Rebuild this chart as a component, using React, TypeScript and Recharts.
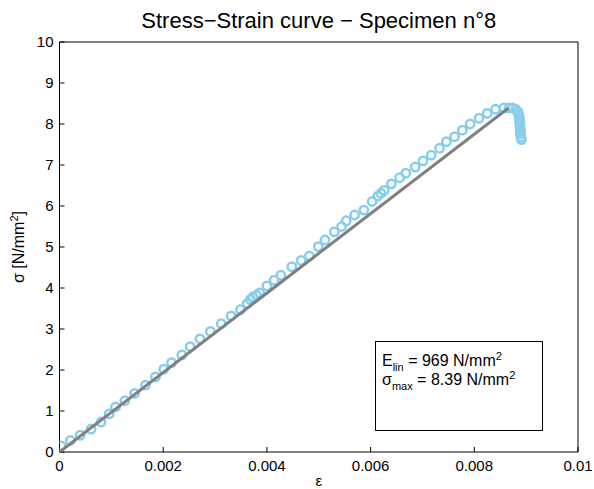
import { ScatterChart, Scatter, XAxis, YAxis } from 'recharts';

// measured strain / stress points (specimen 8)
const strain = [
  0.00003, 0.00021, 0.0004, 0.00061, 0.0008, 0.00096, 0.00108, 0.00126, 0.00145, 0.00166,
  0.00185, 0.00201, 0.00216, 0.00236, 0.00252, 0.00271, 0.00291, 0.00312, 0.00331, 0.00349,
  0.00362, 0.00368, 0.00373, 0.0038, 0.00386, 0.004, 0.00414, 0.00427, 0.00448, 0.00466,
  0.00482, 0.00499, 0.00512, 0.0053, 0.00544, 0.00553, 0.00569, 0.00587, 0.00603, 0.00614,
  0.0062, 0.00626, 0.0064, 0.00656, 0.00668, 0.00686, 0.00701, 0.00717, 0.00733, 0.00746,
  0.00762, 0.00777, 0.00792, 0.00809, 0.00825, 0.00841, 0.00857, 0.00867, 0.00874, 0.0088,
  0.00884, 0.00886, 0.00887, 0.00887, 0.00888, 0.00888, 0.00889, 0.00889, 0.0089, 0.00891,
];
const stress = [
  0.15, 0.28, 0.41, 0.56, 0.73, 0.93, 1.1, 1.25, 1.43, 1.63,
  1.83, 2.02, 2.18, 2.37, 2.57, 2.76, 2.94, 3.13, 3.32, 3.47,
  3.62, 3.72, 3.78, 3.82, 3.88, 4.05, 4.19, 4.31, 4.52, 4.67,
  4.78, 5.01, 5.17, 5.37, 5.5, 5.64, 5.78, 5.9, 6.11, 6.24,
  6.31, 6.38, 6.54, 6.69, 6.8, 6.95, 7.1, 7.24, 7.41, 7.57,
  7.69, 7.85, 8.0, 8.14, 8.26, 8.36, 8.39, 8.39, 8.39, 8.36,
  8.3, 8.23, 8.16, 8.08, 8.0, 7.92, 7.84, 7.76, 7.68, 7.62,
];

// linear fit, E_lin = 969 N/mm2
const fitStrain = [0, 0.00866];
const fitStress = [0, 8.39];

const xTicks = [0, 0.002, 0.004, 0.006, 0.008, 0.01];
const yTicks = [0, 1, 2, 3, 4, 5, 6, 7, 8, 9, 10];

const points = strain.map((x, i) => ({ x, y: stress[i] }));
const fit = fitStrain.map((x, i) => ({ x, y: fitStress[i] }));

const font = '"Liberation Sans", Arial, Helvetica, sans-serif';
const tickStyle = { fill: '#000', fontSize: 15, fontFamily: font };
const sup = { fontSize: 11, position: 'relative' as const, top: -6 };
const sub = { fontSize: 11, position: 'relative' as const, top: 5 };

const HollowCircle = (props: any) => (
  <circle cx={props.cx} cy={props.cy} r={4.2} fill="none" stroke="#87ceeb" strokeWidth={2.5} />
);

export default function App() {
  return (
    <div style={{ position: 'absolute', left: 0, top: 0, width: 594, height: 489, background: '#fff', fontFamily: font, color: '#000' }}>
      <ScatterChart width={594} height={489} margin={{ top: 32, right: 6, bottom: 7, left: 9.5 }}>
        <XAxis
          xAxisId="b"
          type="number"
          dataKey="x"
          domain={[0, 0.01]}
          ticks={xTicks}
          height={30}
          tickSize={-5}
          tickMargin={13}
          tick={tickStyle}
          stroke="#000"
          tickFormatter={(v) => String(v)}
          allowDataOverflow
        />
        <XAxis
          xAxisId="t"
          orientation="top"
          type="number"
          dataKey="x"
          domain={[0, 0.01]}
          ticks={xTicks}
          height={10}
          tickSize={-5}
          tick={false}
          stroke="#000"
          allowDataOverflow
        />
        <YAxis
          yAxisId="l"
          type="number"
          dataKey="y"
          domain={[0, 10]}
          ticks={yTicks}
          width={50}
          tickSize={-5}
          tickMargin={11}
          tick={tickStyle}
          stroke="#000"
          allowDataOverflow
        />
        <YAxis
          yAxisId="r"
          orientation="right"
          type="number"
          dataKey="y"
          domain={[0, 10]}
          ticks={yTicks}
          width={10}
          tickSize={-5}
          tick={false}
          stroke="#000"
          allowDataOverflow
        />
        <Scatter xAxisId="b" yAxisId="l" data={points} shape={HollowCircle} isAnimationActive={false} />
        <Scatter
          xAxisId="b"
          yAxisId="l"
          data={fit}
          line={{ stroke: '#808080', strokeWidth: 3 }}
          shape={() => null}
          isAnimationActive={false}
        />
      </ScatterChart>

      <div style={{ position: 'absolute', left: 59.5, width: 518.5, top: 8, textAlign: 'center', fontSize: 22, whiteSpace: 'nowrap' }}>
        Stress−Strain curve − Specimen n°8
      </div>

      <div style={{ position: 'absolute', left: 59.5, width: 518.5, top: 472, textAlign: 'center', fontSize: 15 }}>
        ε
      </div>

      <div
        style={{
          position: 'absolute',
          left: 19,
          top: 247,
          transform: 'translate(-50%, -50%) rotate(-90deg)',
          whiteSpace: 'nowrap',
          fontSize: 16,
        }}
      >
        σ [N/mm<span style={sup}>2</span>]
      </div>

      <div
        style={{
          position: 'absolute',
          left: 375,
          top: 341,
          width: 168,
          height: 90,
          border: '1px solid #000',
          boxSizing: 'border-box',
          fontSize: 16,
          lineHeight: '17px',
          paddingLeft: 6,
          paddingTop: 10,
          whiteSpace: 'nowrap',
        }}
      >
        <div>
          E<span style={sub}>lin</span> = 969 N/mm<span style={sup}>2</span>
        </div>
        <div>
          σ<span style={sub}>max</span> = 8.39 N/mm<span style={sup}>2</span>
        </div>
      </div>
    </div>
  );
}
